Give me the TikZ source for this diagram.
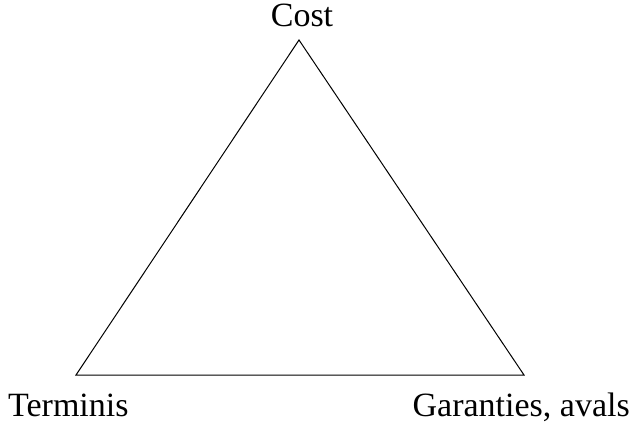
\documentclass[tikz,border=0pt]{standalone}
\usepackage{fontspec}
\setmainfont{Liberation Serif}
\begin{document}
\begin{tikzpicture}[x=1pt,y=-1pt,
  lbl/.style={inner sep=0pt,font=\fontsize{34}{38}\selectfont},
  edge/.style={draw=black,line width=1pt,line join=miter}]
\useasboundingbox (0,0) rectangle (632,425);
\coordinate (top) at (299,40);
\coordinate (bl) at (76,375);
\coordinate (br) at (524,375);
\draw[edge] (top) -- (bl) -- (br) -- cycle;
\node[lbl,anchor=base] (cost) at (302,27) {Cost};
\node[lbl,anchor=base west] (term) at (8,416) {Terminis};
\node[lbl,anchor=base east] (gar) at (630,416) {Garanties, avals};
\end{tikzpicture}
\end{document}
